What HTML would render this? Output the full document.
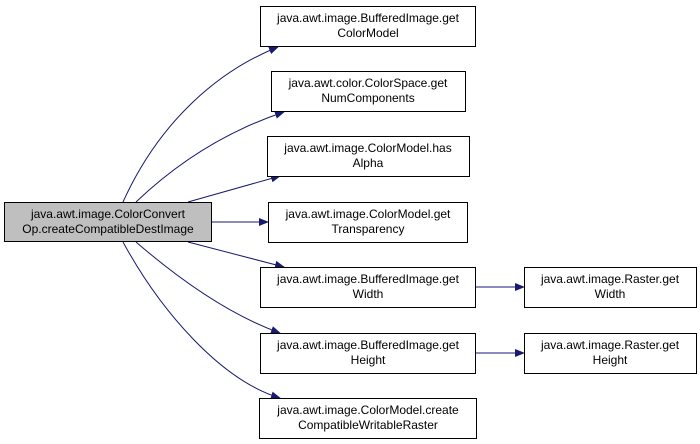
<!DOCTYPE html>
<html><head><style>
html,body{margin:0;padding:0;background:#fff;width:700px;height:444px;overflow:hidden}
text{font-family:"Liberation Sans",Arial,sans-serif;font-size:12px;fill:#000}
</style></head><body>
<svg width="700" height="444" viewBox="0 0 700 444" xmlns="http://www.w3.org/2000/svg">
<defs><marker id="a" markerWidth="10" markerHeight="8" refX="9" refY="4" orient="auto" markerUnits="userSpaceOnUse"><path d="M0,0 L10,4 L0,8 Z" fill="#191970"/></marker></defs>
<g fill="none" stroke="#191970" stroke-width="1" marker-end="url(#a)">
<path d="M123,202 C160,120 220,70 278,47"/>
<path d="M136,202 C180,160 230,130 284,112"/>
<path d="M188,202 L280,176"/>
<path d="M212,222 L268,222"/>
<path d="M188,242 L284,267"/>
<path d="M136,242 C180,280 230,315 280,333"/>
<path d="M123,242 C160,310 220,380 280,398"/>
<path d="M476,287 L524,287"/>
<path d="M476,353 L524,353"/>
</g>
<g stroke="#000" stroke-width="1">
<rect x="4.5" y="202.5" width="207" height="39" fill="#bfbfbf"/>
<rect x="260.5" y="6.5" width="215" height="40" fill="#fff"/>
<rect x="271.5" y="71.5" width="194" height="40" fill="#fff"/>
<rect x="267.5" y="136.5" width="202" height="40" fill="#fff"/>
<rect x="268.5" y="202.5" width="199" height="40" fill="#fff"/>
<rect x="260.5" y="267.5" width="215" height="40" fill="#fff"/>
<rect x="260.5" y="333.5" width="215" height="40" fill="#fff"/>
<rect x="259.5" y="398.5" width="217" height="40" fill="#fff"/>
<rect x="524.5" y="267.5" width="172" height="40" fill="#fff"/>
<rect x="524.5" y="333.5" width="172" height="40" fill="#fff"/>
</g>
<g text-anchor="middle">
<text x="108" y="218">java.awt.image.ColorConvert</text><text x="108" y="233">Op.createCompatibleDestImage</text>
<text x="368" y="22">java.awt.image.BufferedImage.get</text><text x="368" y="37">ColorModel</text>
<text x="368" y="87">java.awt.color.ColorSpace.get</text><text x="368" y="102">NumComponents</text>
<text x="368" y="152">java.awt.image.ColorModel.has</text><text x="368" y="167">Alpha</text>
<text x="368" y="218">java.awt.image.ColorModel.get</text><text x="368" y="233">Transparency</text>
<text x="368" y="283">java.awt.image.BufferedImage.get</text><text x="368" y="298">Width</text>
<text x="368" y="349">java.awt.image.BufferedImage.get</text><text x="368" y="364">Height</text>
<text x="368" y="414">java.awt.image.ColorModel.create</text><text x="368" y="429">CompatibleWritableRaster</text>
<text x="610" y="283">java.awt.image.Raster.get</text><text x="610" y="298">Width</text>
<text x="610" y="349">java.awt.image.Raster.get</text><text x="610" y="364">Height</text>
</g>
</svg>
</body></html>
